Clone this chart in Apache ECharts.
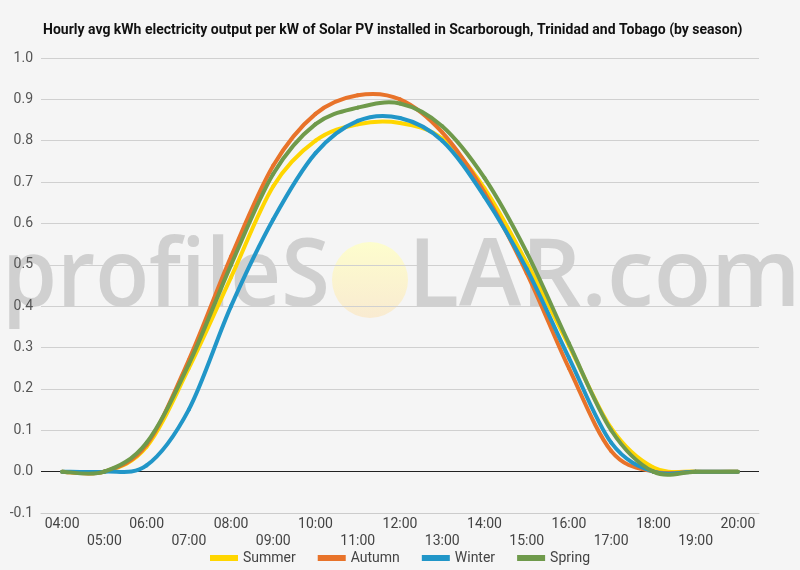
<!DOCTYPE html>
<html>
<head>
<meta charset="utf-8">
<script src="https://cdn.jsdelivr.net/npm/echarts@6/dist/echarts.min.js"></script>
<style>
  html, body { margin: 0; padding: 0; background: #f5f5f5; }
  #chart { width: 800px; height: 570px; }
</style>
</head>
<body>
<div id="chart"></div>
<script>
const hours = ['04:00', '05:00', '06:00', '07:00', '08:00', '09:00', '10:00', '11:00', '12:00',
  '13:00', '14:00', '15:00', '16:00', '17:00', '18:00', '19:00', '20:00']

const summer = [0, 0, 0.06, 0.25, 0.47, 0.69, 0.80, 0.84, 0.843, 0.805, 0.685, 0.505, 0.305, 0.105, 0.01, 0, 0]
const autumn = [0, 0, 0.065, 0.27, 0.52, 0.74, 0.865, 0.91, 0.90, 0.82, 0.675, 0.48, 0.25, 0.05, 0, 0, 0]
const winter = [0, 0, 0.015, 0.15, 0.40, 0.61, 0.77, 0.848, 0.855, 0.80, 0.665, 0.49, 0.275, 0.07, 0, 0, 0]
const spring = [0, 0, 0.07, 0.26, 0.50, 0.72, 0.84, 0.88, 0.89, 0.835, 0.71, 0.53, 0.31, 0.10, 0, 0, 0]

const chart = echarts.init(document.getElementById('chart'))

// Catmull-Rom curve, one bezier segment per data point, positions from the axes
const makeLine = (name, values, color) => ({
  name,
  type: 'custom',
  data: values.map((v, i) => [i, v]),
  encode: { x: 0, y: 1 },
  itemStyle: { color },
  renderItem: (params, api) => {
    const i = params.dataIndex
    const n = values.length
    if (i >= n - 1) return null
    const pt = (k) => {
      const kk = Math.max(0, Math.min(n - 1, k))
      return api.coord([kk, values[kk]])
    }
    const p0 = pt(i - 1), p1 = pt(i), p2 = pt(i + 1), p3 = pt(i + 2)
    return {
      type: 'bezierCurve',
      shape: {
        x1: p1[0], y1: p1[1],
        x2: p2[0], y2: p2[1],
        cpx1: p1[0] + (p2[0] - p0[0]) / 6,
        cpy1: p1[1] + (p2[1] - p0[1]) / 6,
        cpx2: p2[0] - (p3[0] - p1[0]) / 6,
        cpy2: p2[1] - (p3[1] - p1[1]) / 6
      },
      style: { stroke: color, lineWidth: 4, fill: 'none', lineCap: 'round' }
    }
  }
})

const gridColors = ['#cccccc', '#222222', '#d0d0d0', '#d0d0d0', '#d0d0d0', '#d0d0d0',
  '#d0d0d0', '#d0d0d0', '#d0d0d0', '#d0d0d0', '#d0d0d0', '#d0d0d0']

const wmColor = 'rgba(185,185,185,0.62)'

chart.setOption({
  backgroundColor: '#f5f5f5',
  animation: false,
  title: {
    text: 'Hourly avg kWh electricity output per kW of Solar PV installed in Scarborough, Trinidad and Tobago (by season)',
    left: 38,
    top: 18,
    textStyle: { fontFamily: 'Roboto', fontSize: 14, fontWeight: 'bold', color: '#111' }
  },
  graphic: [
    {
      type: 'text',
      left: 2,
      top: 232,
      scaleX: 0.94,
      z: 0,
      style: { text: 'profileS', font: '600 94px "Open Sans"', fill: wmColor }
    },
    {
      type: 'circle',
      shape: { cx: 370, cy: 280, r: 38 },
      z: 0,
      style: {
        fill: new echarts.graphic.LinearGradient(0, 0, 0, 1, [
          { offset: 0, color: 'rgba(255,255,195,0.8)' },
          { offset: 1, color: 'rgba(250,232,200,0.8)' }
        ])
      }
    },
    {
      type: 'text',
      left: 408,
      top: 232,
      z: 0,
      style: { text: 'LAR.com', font: '600 94px "Open Sans"', fill: wmColor }
    }
  ],
  legend: {
    bottom: 0,
    left: 'center',
    itemWidth: 28,
    itemHeight: 6,
    itemGap: 22,
    icon: 'rect',
    textStyle: { fontFamily: 'Roboto', fontSize: 14, color: '#444' },
    data: ['Summer', 'Autumn', 'Winter', 'Spring']
  },
  grid: { left: 41, right: 41, top: 58, bottom: 57 },
  xAxis: {
    type: 'category',
    data: hours,
    boundaryGap: true,
    axisTick: { show: false },
    axisLine: { onZero: false, lineStyle: { color: '#ccc' } },
    axisLabel: {
      interval: 0,
      margin: 3,
      lineHeight: 17,
      fontFamily: 'Roboto',
      fontSize: 14,
      color: '#444',
      formatter: (v, i) => (i % 2 ? '\n' + v : v)
    }
  },
  yAxis: {
    type: 'value',
    min: -0.1,
    max: 1.0,
    interval: 0.1,
    axisLine: { show: false },
    axisTick: { show: false },
    axisLabel: {
      fontFamily: 'Roboto',
      fontSize: 14,
      color: '#555',
      margin: 8,
      formatter: (v) => v.toFixed(1)
    },
    splitLine: { lineStyle: { color: gridColors } }
  },
  series: [
    makeLine('Summer', summer, '#FFD600'),
    makeLine('Autumn', autumn, '#E8732A'),
    makeLine('Winter', winter, '#2196C8'),
    makeLine('Spring', spring, '#6F9A4B')
  ]
})
</script>
</body>
</html>
